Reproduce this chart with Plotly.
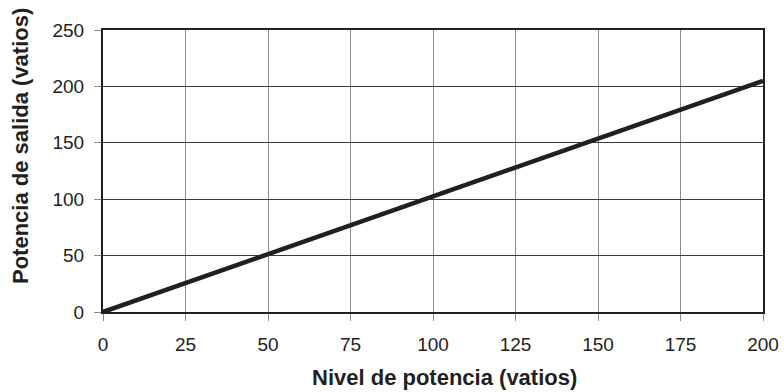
import plotly.graph_objects as go

# Output power measured against the configured power level
nivel = [0, 50, 100, 150, 200]
salida = [0, 51, 102, 153, 205]

x_ticks = [0, 25, 50, 75, 100, 125, 150, 175, 200]
y_ticks = [0, 50, 100, 150, 200, 250]

x_title = "Nivel de potencia (vatios)"
y_title = "Potencia de salida (vatios)"

ink = "#231f20"
font_family = "Liberation Sans, Arial, sans-serif"

fig = go.Figure()
fig.add_trace(go.Scatter(
    x=nivel, y=salida, mode="lines",
    line=dict(color=ink, width=4.5),
    cliponaxis=False, showlegend=False,
))

fig.update_layout(
    width=784, height=392,
    margin=dict(l=103, r=21, t=30, b=80),
    paper_bgcolor="white", plot_bgcolor="white",
    font=dict(family=font_family, size=19, color=ink),
)
fig.update_xaxes(
    range=[0, 200], tickvals=x_ticks,
    automargin=False,
    showgrid=True, gridcolor="#8c8c8c", gridwidth=1,
    showline=True, linecolor=ink, linewidth=2, mirror=True,
    ticks="outside", ticklen=7, tickcolor="#8c8c8c", tickwidth=1,
    ticklabelstandoff=7,
    zeroline=False,
)
fig.update_yaxes(
    range=[0, 250], tickvals=y_ticks,
    automargin=False,
    showgrid=True, gridcolor="#3a3a3a", gridwidth=1,
    showline=True, linecolor=ink, linewidth=2, mirror=True,
    ticks="outside", ticklen=7, tickcolor="#8c8c8c", tickwidth=1,
    ticklabelstandoff=6,
    zeroline=False,
)

# Axis titles placed as annotations so their position can be set freely
fig.add_annotation(
    text=f"<b>{x_title}</b>", xref="paper", yref="paper",
    x=0.5175, y=-0.232, xanchor="center", yanchor="middle",
    showarrow=False, font=dict(size=22, color=ink),
)
fig.add_annotation(
    text=f"<b>{y_title}</b>", xref="paper", yref="paper",
    x=-0.126, y=0.588, xanchor="center", yanchor="middle",
    textangle=-90, showarrow=False, font=dict(size=22, color=ink),
)

fig.write_html("out.html")
